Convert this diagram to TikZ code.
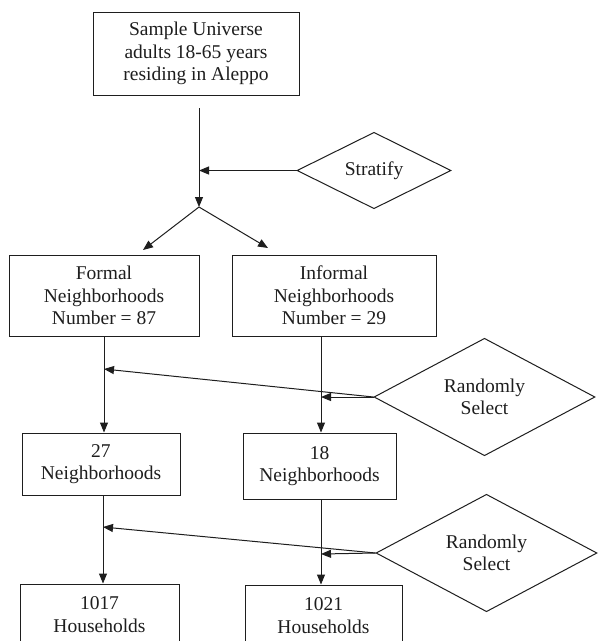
\documentclass[tikz,border=0pt]{standalone}
\usepackage{fontspec}
\setmainfont{Liberation Serif}
\usetikzlibrary{shapes.geometric,arrows.meta}
\definecolor{ink}{HTML}{1E1E1E}
\tikzset{
  box/.style={draw=ink, line width=1pt, rectangle, inner sep=0pt, align=center,
    font=\fontsize{19.5}{22.5}\selectfont, text=ink},
  choice/.style={draw=ink, line width=1pt, diamond, inner sep=0pt, align=center,
    font=\fontsize{19.5}{22.5}\selectfont, text=ink},
  arr/.style={draw=ink, line width=1pt, -{Triangle[length=10pt,width=8pt]}},
}
\begin{document}
\begin{tikzpicture}[x=1pt,y=-1pt]
\useasboundingbox[fill=white] (0,0) rectangle (598,641);
% boxes
\node[box, minimum width=206pt, minimum height=83pt] (top) at (196,53.5)
  {Sample Universe\\adults 18-65 years\\residing in Aleppo};
\node[box, minimum width=190pt, minimum height=81pt] (formal) at (104,295.5)
  {Formal\\Neighborhoods\\Number = 87};
\node[box, minimum width=204pt, minimum height=81pt] (informal) at (334,295.5)
  {Informal\\Neighborhoods\\Number = 29};
\node[box, minimum width=158pt, minimum height=62pt] (n27) at (101,464)
  {27\\Neighborhoods};
\node[box, minimum width=153pt, minimum height=66pt] (n18) at (319.5,466)
  {18\\Neighborhoods};
\node[box, minimum width=159pt, minimum height=61pt] (h1017) at (99.5,614.5)
  {1017\\Households};
\node[box, minimum width=157pt, minimum height=61pt] (h1021) at (323.5,615.5)
  {1021\\Households};
% diamonds
\node[choice, minimum width=154pt, minimum height=75pt] (strat) at (374,170.5) {Stratify};
\node[choice, minimum width=221pt, minimum height=108pt] (rand1) at (484.5,397) {Randomly\\Select};
\node[choice, minimum width=221pt, minimum height=104pt] (rand2) at (486.5,553) {Randomly\\Select};
% helper coordinates
\coordinate (s1) at (199,108);
\coordinate (j1) at (199,207);
\coordinate (m1) at (199,170.5);
\coordinate (tl) at (143,250);
\coordinate (tr) at (268,248);
\coordinate (fl) at (104,369);
\coordinate (il) at (321,397);
\coordinate (nl) at (103,527);
\coordinate (ml) at (321,554);
% connectors
\draw[arr] (s1) -- (j1);
\draw[arr] (strat.west) -- (m1);
\draw[arr] (j1) -- (tl);
\draw[arr] (j1) -- (tr);
\draw[arr] (formal.south) -- (formal.south |- n27.north);
\draw[arr] (informal.south -| il) -- (il |- n18.north);
\draw[arr] (rand1.west) -- (fl);
\draw[arr] (rand1.west) -- (il);
\draw[arr] (n27.south -| nl) -- (nl |- h1017.north);
\draw[arr] (n18.south -| ml) -- (ml |- h1021.north);
\draw[arr] (rand2.west) -- (nl);
\draw[arr] (rand2.west) -- (ml);
\end{tikzpicture}
\end{document}
